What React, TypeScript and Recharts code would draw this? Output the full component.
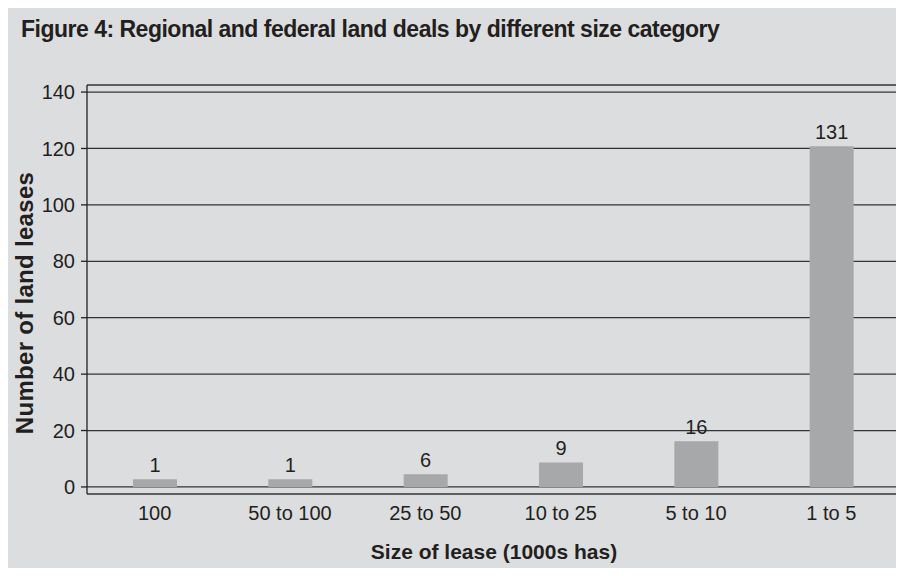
import { Bar, BarChart, CartesianGrid, LabelList, XAxis, YAxis } from "recharts";

// size categories (1000s ha)
const categories = ["100", "50 to 100", "25 to 50", "10 to 25", "5 to 10", "1 to 5"];
// bar heights as drawn in the figure
const barHeights = [2.7, 2.7, 4.5, 8.7, 16.2, 120.8];
// printed value labels
const valueLabels = [1, 1, 6, 9, 16, 131];
const yTicks = [0, 20, 40, 60, 80, 100, 120, 140];

const chartData = categories.map((name, i) => ({
  name,
  value: barHeights[i],
  label: valueLabels[i],
}));

const FONT = "'Liberation Sans', Arial, Helvetica, sans-serif";
const INK = "#231f20";

export default function App() {
  return (
    <div
      style={{
        position: "relative",
        width: 904,
        height: 576,
        margin: -8,
        background: "#fff",
        overflow: "hidden",
        fontFamily: FONT,
      }}
    >
      <div
        style={{
          position: "absolute",
          left: 5,
          top: 5,
          right: 0,
          bottom: 0,
          background: "#dcdddf",
        }}
      />
      <div
        style={{
          position: "absolute",
          left: 21,
          top: 16,
          fontSize: 23,
          fontWeight: 700,
          letterSpacing: -0.5,
          color: INK,
          whiteSpace: "nowrap",
        }}
      >
        Figure 4: Regional and federal land deals by different size category
      </div>
      <div style={{ position: "absolute", left: 0, top: 0 }}>
        <BarChart
          width={904}
          height={576}
          data={chartData}
          margin={{ top: 85, right: 5, bottom: 52, left: 37 }}
        >
          <CartesianGrid vertical={false} stroke="#333" strokeWidth={1.3} />
          <XAxis
            dataKey="name"
            axisLine={false}
            tickLine={false}
            tickSize={0}
            tickMargin={12}
            height={30}
            tick={{ fill: INK, fontSize: 20, fontFamily: FONT }}
            interval={0}
          />
          <YAxis
            domain={[-2.5, 142.5]}
            ticks={yTicks}
            width={50}
            axisLine={{ stroke: "#222", strokeWidth: 1.3 }}
            tickLine={{ stroke: "#222", strokeWidth: 1.3 }}
            tickSize={6}
            tickMargin={6}
            tick={{ fill: INK, fontSize: 20, fontFamily: FONT }}
            allowDataOverflow
          />
          <Bar dataKey="value" fill="#a7a8aa" barSize={44} isAnimationActive={false}>
            <LabelList
              dataKey="label"
              position="top"
              offset={7}
              fill={INK}
              style={{ fontSize: 20, fontFamily: FONT }}
            />
          </Bar>
          <text
            x={494}
            y={559}
            textAnchor="middle"
            fill={INK}
            style={{ fontSize: 21, fontWeight: 700, fontFamily: FONT }}
          >
            Size of lease (1000s has)
          </text>
          <text
            x={0}
            y={0}
            transform="translate(33 303) rotate(-90)"
            textAnchor="middle"
            fill={INK}
            style={{ fontSize: 24, fontWeight: 700, fontFamily: FONT, letterSpacing: 0.3 }}
          >
            Number of land leases
          </text>
        </BarChart>
      </div>
    </div>
  );
}
